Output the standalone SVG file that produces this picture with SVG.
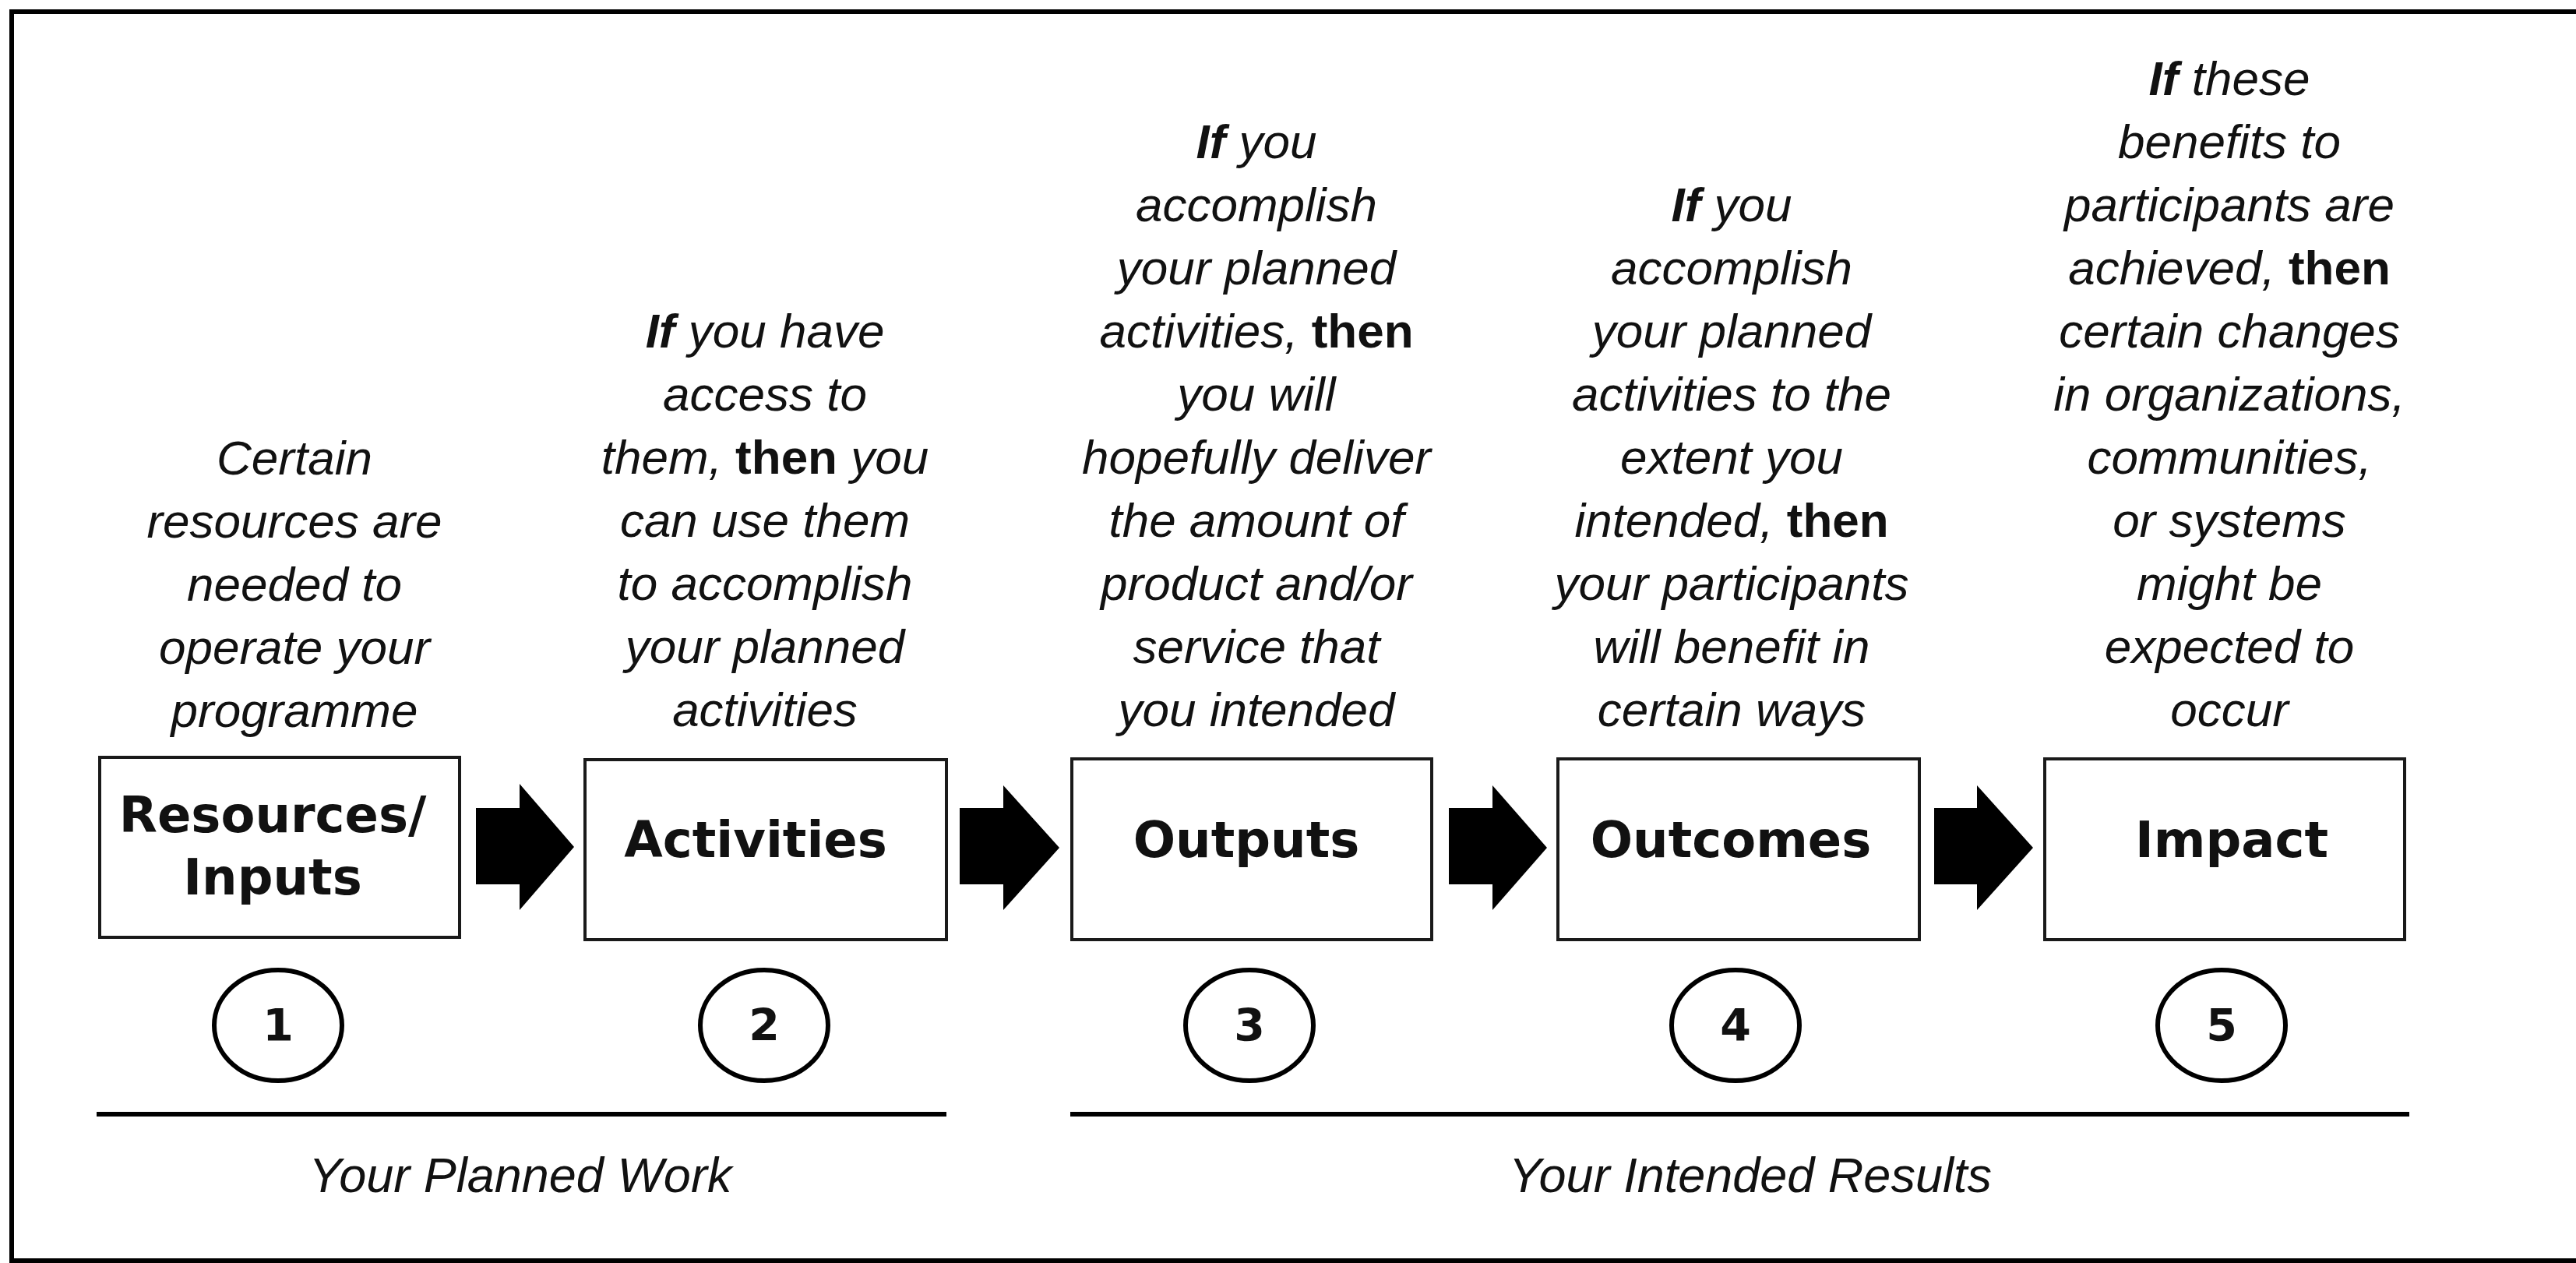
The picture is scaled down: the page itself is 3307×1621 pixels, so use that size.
<svg xmlns="http://www.w3.org/2000/svg" width="3307" height="1621" viewBox="0 0 3307 1621">
<style>
.frame{stroke:#000;stroke-width:6;fill:none}
.box{fill:#fff;stroke:#1a1a1a;stroke-width:4}
.circ{fill:#fff;stroke:#000;stroke-width:6}
.arrow{fill:#000}
.rule{stroke:#000;stroke-width:6}
.desc{font-family:"Liberation Sans",Arial,sans-serif;font-style:italic;font-size:62px;fill:#111;text-anchor:middle}
.desc .b{font-weight:bold}
.desc .bu{font-weight:bold;font-style:normal}
.lbl{font-family:"DejaVu Sans","Liberation Sans",sans-serif;font-weight:bold;font-size:64px;fill:#111;text-anchor:middle}
.num{font-family:"DejaVu Sans","Liberation Sans",sans-serif;font-weight:bold;font-size:57px;fill:#111;text-anchor:middle}
.foot{font-family:"Liberation Sans",Arial,sans-serif;font-style:italic;font-size:63px;fill:#111;text-anchor:middle}
</style>
<rect width="3307" height="1621" fill="#fff"/>
<g id="frame">
<line class="frame" x1="15" y1="15" x2="3307" y2="15"/>
<line class="frame" x1="15" y1="1618" x2="3307" y2="1618"/>
<line class="frame" x1="15" y1="12" x2="15" y2="1621"/>
</g>

<g id="node-resources">
<text class="desc" x="378" y="609">Certain</text>
<text class="desc" x="378" y="690">resources are</text>
<text class="desc" x="378" y="771">needed to</text>
<text class="desc" x="378" y="852">operate your</text>
<text class="desc" x="378" y="933">programme</text>
<rect class="box" x="128" y="972" width="462" height="231"/>
<text class="lbl" x="350" y="1068">Resources/</text>
<text class="lbl" x="350" y="1148">Inputs</text>
<ellipse class="circ" cx="357" cy="1316" rx="82" ry="71"/>
<text class="num" x="357" y="1336">1</text>
</g>

<g id="node-activities">
<text class="desc" x="982" y="446"><tspan class="b">If</tspan> you have</text>
<text class="desc" x="982" y="527">access to</text>
<text class="desc" x="982" y="608">them, <tspan class="bu">then</tspan> you</text>
<text class="desc" x="982" y="689">can use them</text>
<text class="desc" x="982" y="770">to accomplish</text>
<text class="desc" x="982" y="851">your planned</text>
<text class="desc" x="982" y="932">activities</text>
<rect class="box" x="751" y="975" width="464" height="231"/>
<text class="lbl" x="970" y="1100">Activities</text>
<ellipse class="circ" cx="981" cy="1316" rx="82" ry="71"/>
<text class="num" x="981" y="1336">2</text>
</g>

<g id="node-outputs">
<text class="desc" x="1613" y="203"><tspan class="b">If</tspan> you</text>
<text class="desc" x="1613" y="284">accomplish</text>
<text class="desc" x="1613" y="365">your planned</text>
<text class="desc" x="1613" y="446">activities, <tspan class="bu">then</tspan></text>
<text class="desc" x="1613" y="527">you will</text>
<text class="desc" x="1613" y="608">hopefully deliver</text>
<text class="desc" x="1613" y="689">the amount of</text>
<text class="desc" x="1613" y="770">product and/or</text>
<text class="desc" x="1613" y="851">service that</text>
<text class="desc" x="1613" y="932">you intended</text>
<rect class="box" x="1376" y="974" width="462" height="232"/>
<text class="lbl" x="1600" y="1100">Outputs</text>
<ellipse class="circ" cx="1604" cy="1316" rx="82" ry="71"/>
<text class="num" x="1604" y="1336">3</text>
</g>

<g id="node-outcomes">
<text class="desc" x="2223" y="284"><tspan class="b">If</tspan> you</text>
<text class="desc" x="2223" y="365">accomplish</text>
<text class="desc" x="2223" y="446">your planned</text>
<text class="desc" x="2223" y="527">activities to the</text>
<text class="desc" x="2223" y="608">extent you</text>
<text class="desc" x="2223" y="689">intended, <tspan class="bu">then</tspan></text>
<text class="desc" x="2223" y="770">your participants</text>
<text class="desc" x="2223" y="851">will benefit in</text>
<text class="desc" x="2223" y="932">certain ways</text>
<rect class="box" x="2000" y="974" width="464" height="232"/>
<text class="lbl" x="2222" y="1100">Outcomes</text>
<ellipse class="circ" cx="2228" cy="1316" rx="82" ry="71"/>
<text class="num" x="2228" y="1336">4</text>
</g>

<g id="node-impact">
<text class="desc" x="2862" y="122"><tspan class="b">If</tspan> these</text>
<text class="desc" x="2862" y="203">benefits to</text>
<text class="desc" x="2862" y="284">participants are</text>
<text class="desc" x="2862" y="365">achieved, <tspan class="bu">then</tspan></text>
<text class="desc" x="2862" y="446">certain changes</text>
<text class="desc" x="2862" y="527">in organizations,</text>
<text class="desc" x="2862" y="608">communities,</text>
<text class="desc" x="2862" y="689">or systems</text>
<text class="desc" x="2862" y="770">might be</text>
<text class="desc" x="2862" y="851">expected to</text>
<text class="desc" x="2862" y="932">occur</text>
<rect class="box" x="2625" y="974" width="462" height="232"/>
<text class="lbl" x="2865" y="1100">Impact</text>
<ellipse class="circ" cx="2852" cy="1316" rx="82" ry="71"/>
<text class="num" x="2852" y="1336">5</text>
</g>

<g id="connectors">
<polygon class="arrow" points="611,1037 667,1037 667,1006 737,1087 667,1168 667,1135 611,1135"/>
<polygon class="arrow" points="1232,1037 1288,1037 1288,1008 1360,1088 1288,1168 1288,1135 1232,1135"/>
<polygon class="arrow" points="1860,1037 1916,1037 1916,1008 1986,1088 1916,1168 1916,1135 1860,1135"/>
<polygon class="arrow" points="2483,1037 2538,1037 2538,1008 2610,1088 2538,1168 2538,1135 2483,1135"/>
</g>

<g id="group-planned-work">
<line class="rule" x1="124" y1="1430" x2="1215" y2="1430"/>
<text class="foot" x="668" y="1530">Your Planned Work</text>
</g>
<g id="group-intended-results">
<line class="rule" x1="1374" y1="1430" x2="3093" y2="1430"/>
<text class="foot" x="2247" y="1530">Your Intended Results</text>
</g>
</svg>
